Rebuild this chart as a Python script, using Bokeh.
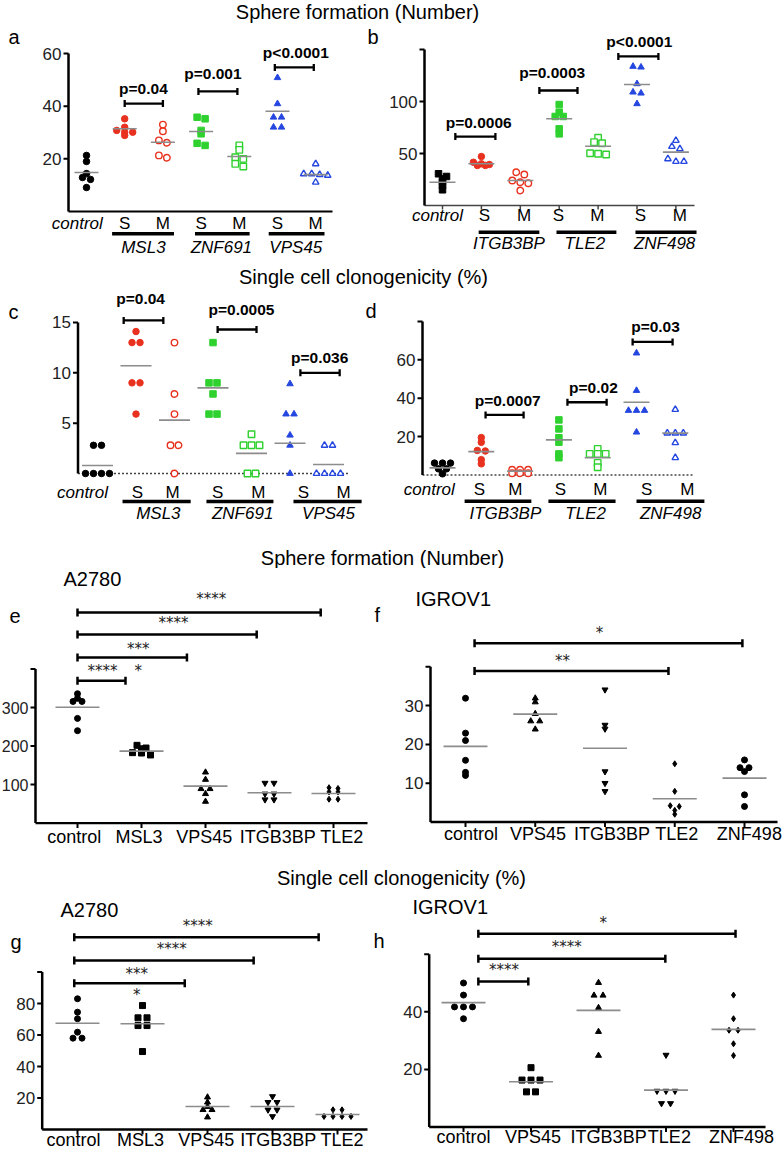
import numpy as np
from bokeh.plotting import figure
from bokeh.layouts import column, row
from bokeh.models import Range1d, Whisker, TeeHead, ColumnDataSource
from bokeh.core.properties import value
from bokeh.embed import file_html
from bokeh.resources import INLINE

FONT = "Liberation Sans"
STAR_FONT = "DejaVu Sans"
RED = "#e8321f"
GREEN = "#2fd12f"
BLUE = "#2547e0"
BLACK = "#000000"
MEAN_COLOR = "#8c8c8c"

# ======================= DATA =======================
SM = ["S", "M", "S", "M", "S", "M"]

# a: Sphere formation (Number)
a_control = [21.3, 19.0, 14.4, 12.9, 12.2, 9.1]
a_msl3_s = [35.2, 32.0, 30.8, 30.1, 30.1, 28.9]
a_msl3_m = [33.0, 30.5, 27.0, 26.1, 21.3, 20.4]
a_znf691_s = [35.8, 35.2, 30.8, 29.5, 25.9, 25.1]
a_znf691_m = [25.1, 23.4, 20.6, 20.0, 18.1, 17.1]
a_vps45_s = [50.8, 40.9, 35.8, 35.8, 32.0, 32.0]
a_vps45_m = [18.1, 14.3, 14.3, 14.0, 13.7, 11.1]
a_means = [14.8, 31.4, 26.3, 30.4, 20.9, 38.1, 14.0]
a_genes = ["MSL3", "ZNF691", "VPS45"]
a_pvalues = ["p=0.04", "p=0.001", "p<0.0001"]
a_ticks = [20, 40, 60]

# b: Sphere formation (Number)
b_control = [30.5, 27.9, 25.6, 22.4, 19.2, 15.1]
b_itgb3bp_s = [47.1, 41.6, 40.1, 39.4, 38.5, 38.5]
b_itgb3bp_m = [32.0, 29.8, 24.0, 22.4, 21.4, 14.4]
b_tle2_s = [97.1, 89.7, 85.6, 85.6, 73.7, 68.9]
b_tle2_m = [65.1, 60.9, 59.9, 50.3, 49.7, 49.0]
b_znf498_s = [133.7, 133.0, 117.0, 109.0, 108.0, 97.8]
b_znf498_m = [62.5, 56.7, 54.5, 44.9, 42.3, 42.3]
b_means = [22.4, 40.1, 24.0, 83.4, 57.0, 116.3, 51.3]
b_genes = ["ITGB3BP", "TLE2", "ZNF498"]
b_pvalues = ["p=0.0006", "p=0.0003", "p<0.0001"]
b_ticks = [50, 100, 150]

# c: Single cell clonogenicity (%)
c_control = [2.8, 2.8, 0, 0, 0, 0]
c_msl3_s = [14.1, 13.0, 13.0, 9.0, 9.0, 5.9]
c_msl3_m = [13.0, 7.9, 5.9, 2.8, 2.8, 0]
c_znf691_s = [13.0, 9.0, 9.0, 7.9, 5.9, 5.9]
c_znf691_m = [3.9, 2.8, 2.8, 2.8, 0, 0]
c_vps45_s = [8.9, 5.9, 5.9, 3.8, 2.8, 0]
c_vps45_m = [2.8, 2.8, 0, 0, 0, 0]
c_means = [0.8, 10.7, 5.3, 8.5, 2.0, 3.0, 0.9]
c_genes = ["MSL3", "ZNF691", "VPS45"]
c_pvalues = ["p=0.04", "p=0.0005", "p=0.036"]
c_ticks = [5, 10, 15]

# d: Single cell clonogenicity (%)
d_control = [6.2, 6.2, 6.2, 3.2, 3.2, 0.6]
d_itgb3bp_s = [19.5, 17.0, 12.8, 12.5, 8.0, 5.8]
d_itgb3bp_m = [2.7, 2.7, 2.7, 0.9, 0.9, 0.9]
d_tle2_s = [28.7, 24.0, 19.4, 17.1, 11.0, 9.0]
d_tle2_m = [13.6, 11.0, 11.0, 11.0, 6.3, 4.0]
d_znf498_s = [63.5, 44.0, 33.6, 33.6, 33.6, 22.3]
d_znf498_m = [34.1, 21.8, 21.8, 21.8, 16.8, 9.0]
d_means = [3.7, 12.2, 2.0, 18.3, 9.0, 37.9, 21.8]
d_genes = ["ITGB3BP", "TLE2", "ZNF498"]
d_pvalues = ["p=0.0007", "p=0.02", "p=0.03"]
d_ticks = [20, 40, 60, 80]

# e: A2780 sphere formation
e_categories = ["control", "MSL3", "VPS45", "ITGB3BP", "TLE2"]
e_control = [336, 324, 316, 316, 272, 240]
e_msl3 = [202, 195, 193, 183, 182, 177]
e_vps45 = [132, 113, 89, 89, 76, 56]
e_itgb3bp = [104, 104, 76, 76, 61, 61]
e_tle2 = [92, 90, 81, 81, 62, 62]
e_means = [301, 187, 96, 79, 77]
e_stars = ["****", "****", "***", "****", "*"]
e_ticks = [100, 200, 300, 400]

# f: IGROV1 sphere formation
f_categories = ["control", "VPS45", "ITGB3BP", "TLE2", "ZNF498"]
f_control = [31.9, 22.9, 21.0, 15.9, 12.8, 12.0]
f_vps45 = [31.9, 30.9, 27.9, 26.0, 26.0, 23.9]
f_itgb3bp = [34.1, 25.0, 24.0, 13.0, 10.0, 7.9]
f_tle2 = [15.0, 7.9, 4.2, 4.0, 3.0, 2.0]
f_znf498 = [16.0, 14.0, 14.0, 13.0, 7.0, 4.0]
f_means = [19.5, 27.8, 19.0, 6.0, 11.3]
f_stars = ["*", "**"]
f_ticks = [10, 20, 30, 40]

# g: A2780 single cell clonogenicity
g_categories = ["control", "MSL3", "VPS45", "ITGB3BP", "TLE2"]
g_control = [83.0, 74.5, 70.3, 61.8, 58.0, 58.0]
g_msl3 = [78.7, 70.9, 70.9, 66.0, 66.0, 49.5]
g_vps45 = [20.5, 17.3, 14.5, 12.5, 12.5, 7.8]
g_itgb3bp = [21.0, 17.3, 17.3, 12.5, 12.5, 8.3]
g_tle2 = [12.5, 12.5, 8.3, 8.3, 8.3, 8.3]
g_means = [67.5, 67.1, 14.6, 14.6, 9.5]
g_stars = ["****", "****", "***", "*"]
g_ticks = [20, 40, 60, 80, 100]

# h: IGROV1 single cell clonogenicity
h_categories = ["control", "VPS45", "ITGB3BP", "TLE2", "ZNF498"]
h_control = [50.0, 45.8, 41.7, 41.7, 41.7, 37.6]
h_vps45 = [20.6, 16.3, 16.3, 16.3, 12.2, 12.2]
h_itgb3bp = [50.1, 45.7, 45.7, 41.4, 33.1, 24.8]
h_tle2 = [25.0, 12.5, 12.5, 12.5, 8.2, 8.2]
h_znf498 = [45.8, 37.6, 33.6, 33.6, 28.9, 24.8]
h_means = [43.2, 15.7, 40.5, 12.8, 33.9]
h_stars = ["*", "****", "****"]
h_ticks = [20, 40, 60]

# ============ ANNOTATION PLACEMENT (category / value units) ============
A_BR = dict(lower=[1.0, 2.93, 4.93], upper=[2.0, 3.95, 5.95], base=[41.0, 45.6, 54.7])
A_PTXT = dict(x=[1.49, 3.31, 5.48], y=[46.7, 52.4, 60.4])
B_BR = dict(lower=[0.33, 2.49, 4.52], upper=[1.36, 3.47, 5.55], base=[66.3, 110.6, 143.3])
B_PTXT = dict(x=[0.93, 2.82, 5.06], y=[79.8, 128.0, 157.7])
C_BR = dict(lower=[0.68, 3.12, 5.27], upper=[1.71, 4.13, 6.29], base=[15.2, 14.3, 10.0])
C_PTXT = dict(x=[1.12, 3.74, 5.77], y=[17.4, 16.3, 11.5])
D_BR = dict(lower=[1.11, 3.22, 4.90], upper=[2.09, 4.23, 5.93], base=[31.3, 37.9, 69.3])
D_PTXT = dict(x=[1.68, 3.89, 5.49], y=[38.6, 45.4, 77.1])
E_BR = dict(lower=[0.0, 0.0, 0.0, 0.0], upper=[3.8, 2.8, 1.71, 0.75], base=[547, 490, 430, 370])
E_STXT = dict(x=[2.09, 1.5, 0.95, 0.39, 0.95], y=[583, 519, 453, 396, 396])
F_BR = dict(lower=[0.13, 0.13], upper=[3.97, 2.91], base=[46.1, 38.9])
F_STXT = dict(x=[1.92, 1.39], y=[48.8, 41.6])
G_BR = dict(lower=[-0.05, -0.05, -0.05], upper=[3.71, 2.71, 1.65], base=[122.1, 107.3, 92.9])
G_STXT = dict(x=[1.85, 1.45, 0.91, 0.91], y=[129.5, 114.3, 99.0, 85.1])
H_BR = dict(lower=[0.22, 0.22, 0.22], upper=[4.03, 2.99, 0.96], base=[67.1, 58.4, 50.5])
H_STXT = dict(x=[2.07, 1.53, 0.6], y=[70.9, 62.5, 54.5])


# ======================= HELPERS =======================
def make_fig(fx, fy, w, h, cat0, dcat, zero, unit):
    """Figure whose frame is the whole canvas; page pixel -> data mapping."""
    xr = Range1d((fx - cat0) / dcat, (fx + w - cat0) / dcat)
    yr = Range1d((zero - (fy + h)) / unit, (zero - fy) / unit)
    p = figure(width=w, height=h, x_range=xr, y_range=yr, x_axis_location=None,
               y_axis_location=None, toolbar_location=None, output_backend="svg",
               min_border=0, title=None)
    p.outline_line_color = None
    p.background_fill_color = "white"
    p.border_fill_color = "white"
    p.grid.visible = False

    def X(px):
        return (px - cat0) / dcat

    def Y(py):
        return (zero - py) / unit

    return p, X, Y, xr


def txt(p, xs, ys, texts, size, style="normal", align="center", baseline="middle",
        color="#000000", font=FONT, x_offset=0, y_offset=0):
    p.text(x=list(xs), y=list(ys), text=list(texts), text_font=value(font),
           text_font_size=f"{size}px", text_font_style=style, text_align=align,
           text_baseline=baseline, text_color=color, x_offset=x_offset, y_offset=y_offset)


def y_axis(p, X, axis_px, ticks, hide_top, dcat, size=17, lw=2.5):
    ax = X(axis_px)
    n = len(ticks)
    p.segment(x0=[ax], x1=[ax], y0=[0], y1=[ticks[-1]], line_color="black", line_width=lw)
    p.segment(x0=[ax] * n, x1=[ax - 5 / dcat] * n, y0=ticks, y1=ticks,
              line_color="black", line_width=2)
    shown = ticks[:-1] if hide_top else ticks
    txt(p, [ax] * len(shown), shown, [str(t) for t in shown], size, align="right",
        baseline="middle", color="#222222", x_offset=-7)


def spread(vals, unit, dcat, sep_px, thr_px=3.0):
    v = np.asarray(vals, dtype=float)
    order = np.argsort(-v, kind="stable")
    offs = np.zeros(len(v))
    clusters = []
    cur = [order[0]]
    for i in order[1:]:
        if (v[cur[0]] - v[i]) * unit < thr_px:
            cur.append(i)
        else:
            clusters.append(cur)
            cur = [i]
    clusters.append(cur)
    for cl in clusters:
        n = len(cl)
        for k, i in enumerate(cl):
            offs[i] = (k - (n - 1) / 2) * sep_px / dcat
    return offs


def draw_groups(p, unit, dcat, series, means, styles, size, sep_px, mean_px):
    for i, (vals, (marker, color, filled)) in enumerate(zip(series, styles)):
        offs = spread(vals, unit, dcat, sep_px)
        p.scatter(x=list(i + offs), y=list(vals), marker=marker, size=size,
                  fill_color=color if filled else "white", line_color=color,
                  line_width=1.0 if filled else 1.4)
    half = mean_px / 2 / dcat
    idx = np.arange(len(means))
    p.segment(x0=list(idx - half), x1=list(idx + half), y0=list(means), y1=list(means),
              line_color=MEAN_COLOR, line_width=1.6)


def draw_brackets(p, br, lw=2.3, head=7):
    src = ColumnDataSource(dict(br))
    p.add_layout(Whisker(source=src, base="base", lower="lower", upper="upper",
                         dimension="width", line_color="black", line_width=lw,
                         lower_head=TeeHead(size=head, line_color="black", line_width=lw),
                         upper_head=TeeHead(size=head, line_color="black", line_width=lw)))


def strip(top, h, text, cx, cy):
    p = figure(width=784, height=h, x_range=Range1d(0, 784), y_range=Range1d(top + h, top),
               x_axis_location=None, y_axis_location=None, toolbar_location=None,
               output_backend="svg", min_border=0, title=None)
    p.outline_line_color = None
    p.background_fill_color = "white"
    p.border_fill_color = "white"
    p.grid.visible = False
    txt(p, [cx], [cy], [text], 20, align="center", baseline="middle")
    return p


def sm_panel(geom, axis_px, ticks, hide_top, series, means, styles, genes, pvals, br, ptxt,
             ax, lab, letter):
    fx, fy, w, h, cat0, dcat, zero, unit = geom
    p, X, Y, xr = make_fig(fx, fy, w, h, cat0, dcat, zero, unit)
    x_start = X(axis_px)
    end = X(ax["end"])
    if ax["dotted"]:
        p.segment(x0=[x_start], x1=[end], y0=[0], y1=[0], line_color="#444444",
                  line_width=1.6, line_dash="2 2")
    else:
        p.segment(x0=[x_start], x1=[end], y0=[0], y1=[0], line_color=ax["color"],
                  line_width=ax["width"])
    if ax.get("ticks"):
        idx = list(range(len(series)))
        p.segment(x0=idx, x1=idx, y0=[0] * len(idx), y1=[-4 / unit] * len(idx),
                  line_color=ax["color"], line_width=1.5)
    y_axis(p, X, axis_px, ticks, hide_top, dcat)
    draw_groups(p, unit, dcat, series, means, styles, 6.5, 8, lab["mean_px"])
    draw_brackets(p, br)
    txt(p, ptxt["x"], ptxt["y"], pvals, 15.5, "bold")
    # labels below the x axis
    txt(p, [lab["ctrl_x"]], [Y(lab["sm_y"])], ["control"], 17, "italic")
    txt(p, lab["sm_x"], [Y(lab["sm_y"])] * 6, SM, 17)
    p.segment(x0=[u[0] for u in lab["ul"]], x1=[u[1] for u in lab["ul"]],
              y0=[Y(lab["ul_y"])] * 3, y1=[Y(lab["ul_y"])] * 3, line_color="black",
              line_width=3.5)
    txt(p, lab["gene_x"], [Y(lab["gene_y"])] * 3, genes, 17, "italic")
    txt(p, [X(letter[0])], [Y(letter[1])], [letter[2]], 20, align="left")
    return p


def cat_panel(geom, axis_px, ticks, series, means, styles, cats, br, stxt, stars, ax_end,
              lab_x, lab_y, letter, cell, tick_size=17):
    fx, fy, w, h, cat0, dcat, zero, unit = geom
    p, X, Y, xr = make_fig(fx, fy, w, h, cat0, dcat, zero, unit)
    x_start = X(axis_px)
    p.segment(x0=[x_start], x1=[X(ax_end)], y0=[0], y1=[0], line_color="black", line_width=2.3)
    idx = list(range(len(series)))
    p.segment(x0=idx, x1=idx, y0=[0] * len(idx), y1=[-5 / unit] * len(idx),
              line_color="black", line_width=2)
    y_axis(p, X, axis_px, ticks, True, dcat, size=tick_size)
    draw_groups(p, unit, dcat, series, means, styles, 6, 9, 44)
    draw_brackets(p, br, lw=2.5, head=8)
    txt(p, stxt["x"], stxt["y"], stars, 15, color="#222222", font=STAR_FONT)
    txt(p, lab_x, [Y(lab_y)] * len(cats), cats, 18)
    txt(p, [X(letter[0])], [Y(letter[1])], [letter[2]], 20, align="left")
    txt(p, [X(cell[0])], [Y(cell[1])], [cell[2]], 20, align="left")
    return p


SMSTY = [("circle", BLACK, True), ("circle", RED, True), ("circle", RED, False),
         ("square", GREEN, True), ("square", GREEN, False),
         ("triangle", BLUE, True), ("triangle", BLUE, False)]
SMSTY_B = [("square", BLACK, True)] + SMSTY[1:]

# ======================= PANELS =======================
pa = sm_panel((0, 24, 364, 232, 86, 38.2, 211, 2.633), 68, a_ticks, False,
              [a_control, a_msl3_s, a_msl3_m, a_znf691_s, a_znf691_m, a_vps45_s, a_vps45_m],
              a_means, SMSTY, a_genes, a_pvalues, A_BR, A_PTXT,
              dict(end=332, dotted=False, color="black", width=2.2),
              dict(mean_px=24, ctrl_x=-0.24, sm_x=[1, 2, 3, 4, 5, 6], sm_y=222.7,
                   ul=[(0.67, 2.29), (2.84, 4.27), (4.77, 6.23)], ul_y=233.3,
                   gene_x=[1.49, 3.53, 5.48], gene_y=247),
              (8, 36, "a"))

pb = sm_panel((364, 24, 420, 232, 442, 38.9, 205, 1.04), 424, b_ticks, True,
              [b_control, b_itgb3bp_s, b_itgb3bp_m, b_tle2_s, b_tle2_m, b_znf498_s, b_znf498_m],
              b_means, SMSTY_B, b_genes, b_pvalues, B_BR, B_PTXT,
              dict(end=694, dotted=False, color="#444444", width=1.6, ticks=True),
              dict(mean_px=26, ctrl_x=-0.13, sm_x=[1.08, 2.1, 2.98, 3.98, 5.09, 6.1], sm_y=215,
                   ul=[(0.93, 2.49), (2.93, 4.47), (4.96, 6.53)], ul_y=231.7,
                   gene_x=[1.71, 3.66, 5.71], gene_y=243),
              (367, 36, "b"))

pc = sm_panel((0, 290, 363, 232, 97, 38.5, 473, 10.07), 77.5, c_ticks, False,
              [c_control, c_msl3_s, c_msl3_m, c_znf691_s, c_znf691_m, c_vps45_s, c_vps45_m],
              c_means, SMSTY, c_genes, c_pvalues, C_BR, C_PTXT,
              dict(end=348, dotted=True),
              dict(mean_px=31, ctrl_x=-0.39, sm_x=[1.04, 1.95, 3.12, 4.18, 5.35, 6.39], sm_y=491.7,
                   ul=[(0.65, 2.42), (2.83, 4.57), (5.09, 6.86)], ul_y=501,
                   gene_x=[1.58, 3.77, 6.0], gene_y=513.3),
              (8, 311, "c"))

pd_ = sm_panel((363, 290, 421, 232, 442, 38.8, 474.5, 1.92), 422, d_ticks, True,
               [d_control, d_itgb3bp_s, d_itgb3bp_m, d_tle2_s, d_tle2_m, d_znf498_s, d_znf498_m],
               d_means, SMSTY, d_genes, d_pvalues, D_BR, D_PTXT,
               dict(end=692, dotted=True),
               dict(mean_px=26, ctrl_x=-0.34, sm_x=[0.95, 1.88, 3.04, 4.07, 5.26, 6.31], sm_y=489.3,
                    ul=[(0.57, 2.29), (2.73, 4.46), (5.0, 6.75)], ul_y=500.7,
                    gene_x=[1.62, 3.69, 5.88], gene_y=512.7),
               (365, 310, "d"))

pe = cat_panel((0, 568, 370, 280, 77, 64, 822.6, 0.385), 35, e_ticks,
               [e_control, e_msl3, e_vps45, e_itgb3bp, e_tle2], e_means,
               [("circle", BLACK, True), ("square", BLACK, True), ("triangle", BLACK, True),
                ("inverted_triangle", BLACK, True), ("diamond", BLACK, True)],
               e_categories, E_BR, E_STXT, e_stars, 367,
               [-0.05, 0.96, 1.98, 3.13, 4.13], 836, (9, 615.5, "e"), (63, 578, "A2780"),
               tick_size=16)

pf = cat_panel((370, 568, 414, 280, 465, 69.75, 821.5, 3.88), 430, f_ticks,
               [f_control, f_vps45, f_itgb3bp, f_tle2, f_znf498], f_means,
               [("circle", BLACK, True), ("triangle", BLACK, True),
                ("inverted_triangle", BLACK, True), ("diamond", BLACK, True),
                ("circle", BLACK, True)],
               f_categories, F_BR, F_STXT, f_stars, 777,
               [0.08, 1.04, 2.1, 3.03, 4.07], 833, (374, 614.5, "f"), (415, 598, "IGROV1"))

pg = cat_panel((0, 895, 370, 255, 77, 65, 1129, 1.575), 41.7, g_ticks,
               [g_control, g_msl3, g_vps45, g_itgb3bp, g_tle2], g_means,
               [("circle", BLACK, True), ("square", BLACK, True), ("triangle", BLACK, True),
                ("inverted_triangle", BLACK, True), ("diamond", BLACK, True)],
               g_categories, G_BR, G_STXT, g_stars, 367,
               [-0.06, 0.97, 1.98, 3.09, 4.07], 1139, (10, 941, "g"), (60, 909, "A2780"))

ph = cat_panel((370, 895, 414, 255, 463, 67.5, 1126.5, 2.88), 428.7, h_ticks,
               [h_control, h_vps45, h_itgb3bp, h_tle2, h_znf498], h_means,
               [("circle", BLACK, True), ("square", BLACK, True), ("triangle", BLACK, True),
                ("inverted_triangle", BLACK, True), ("diamond", BLACK, True)],
               h_categories, H_BR, H_STXT, h_stars, 765,
               [0.0, 1.03, 2.15, 3.05, 4.12], 1136, (373, 940.5, "h"), (412, 906.7, "IGROV1"))

t1 = strip(0, 24, "Sphere formation (Number)", 357, 11)
t2 = strip(256, 34, "Single cell clonogenicity (%)", 363, 276.5)
t3 = strip(522, 46, "Sphere formation (Number)", 382, 557)
t4 = strip(848, 47, "Single cell clonogenicity (%)", 401, 877.5)

layout = column(t1, row(pa, pb), t2, row(pc, pd_), t3, row(pe, pf), t4, row(pg, ph))

open("out.html", "w").write(file_html(layout, INLINE))
